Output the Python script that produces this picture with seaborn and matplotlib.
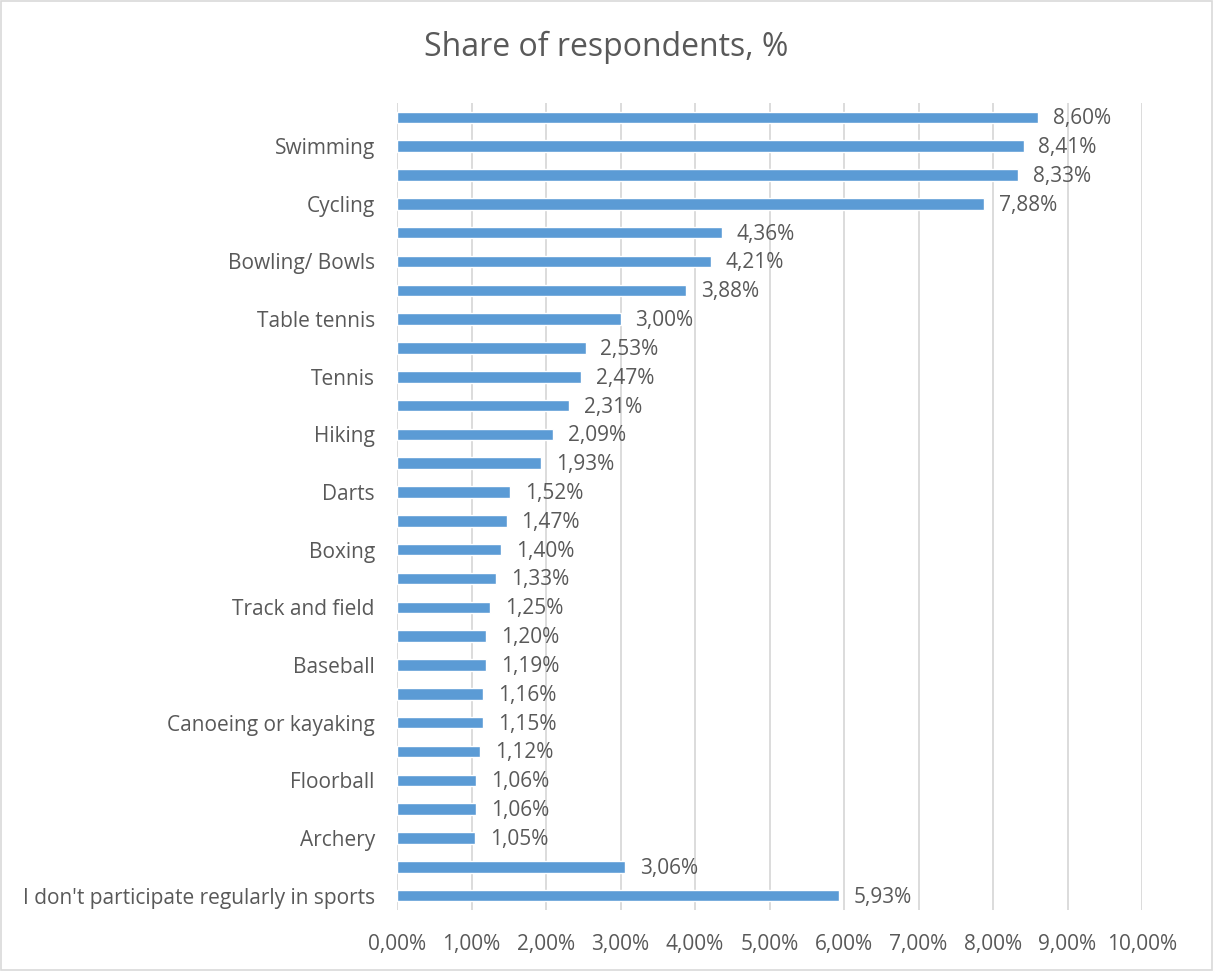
import matplotlib
matplotlib.use("Agg")
import matplotlib.pyplot as plt
import seaborn as sns
import pandas as pd
from matplotlib.patches import Rectangle

# Sports named on the axis (every second row carries a label)
sport_labels = [
    "", "Swimming", "", "Cycling", "", "Bowling/ Bowls", "", "Table tennis",
    "", "Tennis", "", "Hiking", "", "Darts", "", "Boxing", "",
    "Track and field", "", "Baseball", "", "Canoeing or kayaking", "",
    "Floorball", "", "Archery", "", "I don't participate regularly in sports",
]
share_pct = [
    8.60, 8.41, 8.33, 7.88, 4.36, 4.21, 3.88, 3.00, 2.53, 2.47, 2.31, 2.09,
    1.93, 1.52, 1.47, 1.40, 1.33, 1.25, 1.20, 1.19, 1.16, 1.15, 1.12, 1.06,
    1.06, 1.05, 3.06, 5.93,
]
x_ticks = [0, 1, 2, 3, 4, 5, 6, 7, 8, 9, 10]

sns.set_theme(style="white")
plt.rcParams["font.family"] = ["Open Sans", "DejaVu Sans"]

TEXT = "#595959"
BAR = "#5B9BD5"
GRID = "#D9D9D9"
FS = 15

df = pd.DataFrame({"row": list(range(len(share_pct))), "share": share_pct})

fig = plt.figure(figsize=(12.13, 9.71), dpi=100)
ax = fig.add_axes([0.3273, 0.0628, 0.6142, 0.8312])

sns.barplot(data=df, x="share", y="row", orient="h", order=df["row"].tolist(),
            color=BAR, saturation=1, width=0.4, ax=ax)

ax.set_xlim(0, 10)
ax.set_ylim(len(share_pct) - 0.5, -0.5)
ax.set_xticks(x_ticks)
ax.set_xticklabels([f"{t:.2f}%".replace(".", ",") for t in x_ticks],
                   fontsize=FS, color=TEXT)
ax.set_yticks(range(len(sport_labels)))
ax.set_yticklabels(sport_labels, fontsize=FS, color=TEXT)
ax.tick_params(axis="x", length=0, pad=17)
ax.tick_params(axis="y", length=0, pad=16)
ax.set_xlabel("")
ax.set_ylabel("")

ax.grid(axis="x", color=GRID, linewidth=1.3)
ax.set_axisbelow(True)
for s in ax.spines.values():
    s.set_visible(False)

for i, v in enumerate(share_pct):
    ax.text(v + 0.2, i + 0.05, f"{v:.2f}%".replace(".", ","), va="center",
            ha="left", fontsize=FS, color=TEXT)

fig.text(0.5, 0.951, "Share of respondents, %", ha="center", va="center",
         fontsize=23, color=TEXT)

fig.patches.append(Rectangle((0.001, 0.001), 0.998, 0.998, transform=fig.transFigure,
                             fill=False, edgecolor="#D9D9D9", linewidth=1.2))

fig.savefig("out.png", dpi=100, facecolor="white")
